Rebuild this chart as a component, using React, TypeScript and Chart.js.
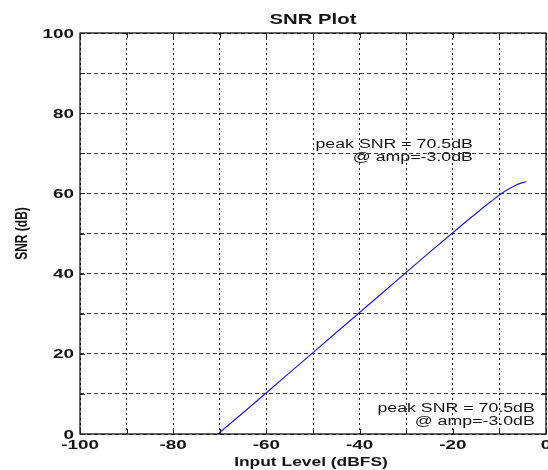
import { useEffect, useRef } from "react";
import { Chart, registerables } from "chart.js";

Chart.register(...registerables);

// ---- data ----
const snrX = [-70.4, -65, -60, -55, -50, -45, -40, -35, -30, -25, -20, -17, -15, -13, -11, -10, -9, -8, -7, -6, -5, -4.2];
const snrY = [0, 5.3, 10.3, 15.3, 20.3, 25.3, 30.3, 35.3, 40.3, 45.3, 50.2, 53.1, 55.0, 56.9, 58.7, 59.6, 60.4, 61.1, 61.7, 62.3, 62.7, 62.9];

const xTickValues = [-100, -80, -60, -40, -20, 0];
const xTickLabels = ["-100", "-80", "-60", "-40", "-20", "0"];
const yTickValues = [0, 20, 40, 60, 80, 100];
const yTickLabels = ["0", "20", "40", "60", "80", "100"];

const titleText = "SNR Plot";
const xTitleText = "Input Level (dBFS)";
const yTitleText = "SNR (dB)";
const noteLines = ["peak SNR = 70.5dB", "@ amp=-3.0dB"];

const FONT = "'Liberation Sans', Arial, Helvetica, sans-serif";
const SX = 1.45;
const NOTE_SX = 1.42;
const TEXT_COLOR = "#141414";

function stretchedText(ctx: CanvasRenderingContext2D, text: string, x: number, y: number, align: CanvasTextAlign, sx: number) {
  ctx.save();
  ctx.translate(x, y);
  ctx.scale(sx, 1);
  ctx.textAlign = align;
  ctx.textBaseline = "alphabetic";
  ctx.fillText(text, 0, 0);
  ctx.restore();
}

const matlabPlugin = {
  id: "matlabDecor",
  afterDraw(chart: any) {
    const { ctx, chartArea: a, scales } = chart;
    const xs = scales.x;
    const ys = scales.y;
    ctx.save();

    // frame
    ctx.setLineDash([]);
    ctx.strokeStyle = "#000";
    ctx.lineWidth = 1.2;
    ctx.strokeRect(a.left, a.top, a.right - a.left, a.bottom - a.top);

    // inner tick marks
    ctx.lineWidth = 1;
    ctx.strokeStyle = "#222";
    const tl = 5;
    ctx.beginPath();
    xs.ticks.forEach((t: any) => {
      const px = Math.round(xs.getPixelForValue(t.value)) + 0.5;
      ctx.moveTo(px, a.bottom);
      ctx.lineTo(px, a.bottom - tl);
      ctx.moveTo(px, a.top);
      ctx.lineTo(px, a.top + tl);
    });
    ys.ticks.forEach((t: any) => {
      const py = Math.round(ys.getPixelForValue(t.value)) + 0.5;
      ctx.moveTo(a.left, py);
      ctx.lineTo(a.left + tl, py);
      ctx.moveTo(a.right, py);
      ctx.lineTo(a.right - tl, py);
    });
    ctx.stroke();

    ctx.fillStyle = TEXT_COLOR;

    // tick labels
    ctx.font = `bold 13px ${FONT}`;
    xTickValues.forEach((v, i) => {
      stretchedText(ctx, xTickLabels[i], xs.getPixelForValue(v), a.bottom + 15, "center", SX);
    });
    yTickValues.forEach((v, i) => {
      stretchedText(ctx, yTickLabels[i], a.left - 6, ys.getPixelForValue(v) + 4.5, "right", SX);
    });

    // title
    ctx.font = `bold 14px ${FONT}`;
    stretchedText(ctx, titleText, (a.left + a.right) / 2, 24, "center", SX);

    // axis titles
    ctx.font = `bold 12px ${FONT}`;
    stretchedText(ctx, xTitleText, (a.left + a.right) / 2 - 2, 465.5, "center", SX);

    ctx.save();
    ctx.translate(27, (a.top + a.bottom) / 2);
    ctx.rotate(-Math.PI / 2);
    ctx.scale(1, SX);
    ctx.textAlign = "center";
    ctx.textBaseline = "alphabetic";
    ctx.fillText(yTitleText, 0, 0);
    ctx.restore();

    // annotations
    ctx.font = `12.5px ${FONT}`;
    const topRight = xs.getPixelForValue(-15.7);
    const topBase = ys.getPixelForValue(71.25);
    stretchedText(ctx, noteLines[0], topRight, topBase, "right", NOTE_SX);
    stretchedText(ctx, noteLines[1], topRight, topBase + 12.4, "right", NOTE_SX);
    const botRight = xs.getPixelForValue(-2.4);
    const botBase = ys.getPixelForValue(5.55);
    stretchedText(ctx, noteLines[0], botRight, botBase, "right", NOTE_SX);
    stretchedText(ctx, noteLines[1], botRight, botBase + 13.3, "right", NOTE_SX);

    ctx.restore();
  },
};

export default function App() {
  const ref = useRef<HTMLCanvasElement | null>(null);

  useEffect(() => {
    if (!ref.current) return;
    const chart = new Chart(ref.current, {
      type: "scatter",
      data: {
        datasets: [
          {
            label: "SNR",
            data: snrX.map((x, i) => ({ x, y: snrY[i] })),
            showLine: true,
            borderColor: "#1a1aff",
            borderWidth: 1.2,
            pointRadius: 0,
            tension: 0,
          },
        ],
      },
      options: {
        animation: false,
        responsive: false,
        layout: { padding: { top: 33, right: 2, left: 0, bottom: 0 } },
        plugins: {
          legend: { display: false },
          tooltip: { enabled: false },
          title: { display: false },
        },
        scales: {
          x: {
            type: "linear",
            min: -100,
            max: 0,
            ticks: { stepSize: 10, display: false },
            grid: { color: "#1a1a1a", lineWidth: 1, drawTicks: false },
            border: { display: false, dash: [2, 3] },
            afterFit: (s: any) => {
              s.height = 36;
            },
          },
          y: {
            type: "linear",
            min: 0,
            max: 100,
            ticks: { stepSize: 10, display: false },
            grid: { color: "#3a3a3a", lineWidth: 1, drawTicks: false },
            border: { display: false, dash: [4, 3] },
            afterFit: (s: any) => {
              s.width = 80;
            },
          },
        },
      },
      plugins: [matlabPlugin],
    });
    return () => chart.destroy();
  }, []);

  return (
    <div style={{ position: "fixed", left: 0, top: 0, width: 548, height: 470, background: "#fff" }}>
      <canvas ref={ref} width={548} height={470} style={{ display: "block" }} />
    </div>
  );
}
